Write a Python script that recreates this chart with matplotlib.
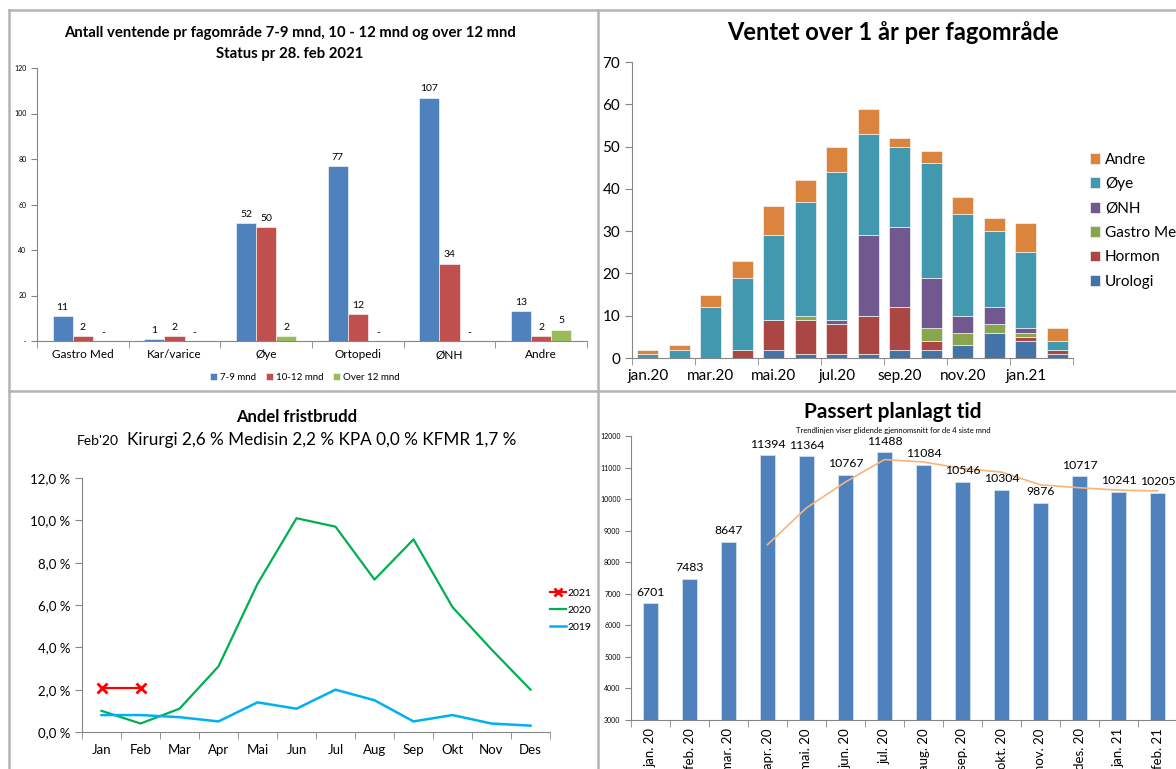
import numpy as np
import pandas as pd
import matplotlib.pyplot as plt
from matplotlib.lines import Line2D

plt.rcParams['font.family'] = ['Lato', 'DejaVu Sans']

W, H = 1176, 769

# Antall ventende pr fagområde (status 28. feb 2021)
fag_navn = ['Gastro Med', 'Kar/varice', 'Øye', 'Ortopedi', 'ØNH', 'Andre']
vent_7_9 = [11, 1, 52, 77, 107, 13]
vent_10_12 = [2, 2, 50, 12, 34, 2]
vent_over_12 = [0, 0, 2, 0, 0, 5]

# Ventet over 1 år, per måned og fagområde
mnd_kort = ['jan.20', 'feb.20', 'mar.20', 'apr.20', 'mai.20', 'jun.20', 'jul.20',
            'aug.20', 'sep.20', 'okt.20', 'nov.20', 'des.20', 'jan.21', 'feb.21']
urologi = [0, 0, 0, 0, 2, 1, 1, 1, 2, 2, 3, 6, 4, 1]
hormon = [0, 0, 0, 2, 7, 8, 7, 9, 10, 2, 0, 0, 1, 1]
gastro_med = [0, 0, 0, 0, 0, 1, 0, 0, 0, 3, 3, 2, 1, 0]
onh = [0, 0, 0, 0, 0, 0, 1, 19, 19, 12, 4, 4, 1, 0]
oye = [1, 2, 12, 17, 20, 27, 35, 24, 19, 27, 24, 18, 18, 2]
andre = [1, 1, 3, 4, 7, 5, 6, 6, 2, 3, 4, 3, 7, 3]

# Andel fristbrudd (%)
maaneder = ['Jan', 'Feb', 'Mar', 'Apr', 'Mai', 'Jun', 'Jul', 'Aug', 'Sep',
            'Okt', 'Nov', 'Des']
brudd_2021 = [2.1, 2.1]
brudd_2020 = [1.0, 0.4, 1.1, 3.1, 7.0, 10.1, 9.7, 7.2, 9.1, 5.9, 3.9, 2.0]
brudd_2019 = [0.8, 0.8, 0.7, 0.5, 1.4, 1.1, 2.0, 1.5, 0.5, 0.8, 0.4, 0.3]

# Passert planlagt tid
mnd_lang = ['jan. 20', 'feb. 20', 'mar. 20', 'apr. 20', 'mai. 20', 'jun. 20',
            'jul. 20', 'aug. 20', 'sep. 20', 'okt. 20', 'nov. 20', 'des. 20',
            'jan. 21', 'feb. 21']
passert = [6701, 7483, 8647, 11394, 11364, 10767, 11488, 11084, 10546, 10304,
           9876, 10717, 10241, 10205]

AXIS_GRAY = '#868686'

fig = plt.figure(figsize=(W / 100, H / 100), dpi=100)


def px_axes(x0, y0, x1, y1):
    """Axes from pixel box (top-left origin)."""
    return fig.add_axes([x0 / W, 1 - y1 / H, (x1 - x0) / W, (y1 - y0) / H])


def px_text(x, y, s, **kw):
    return fig.text(x / W, 1 - y / H, s, **kw)


def style_axes(ax):
    for side in ('top', 'right'):
        ax.spines[side].set_visible(False)
    for side in ('left', 'bottom'):
        ax.spines[side].set_color(AXIS_GRAY)
    ax.tick_params(colors=AXIS_GRAY, labelcolor='black')


def category_ticks(ax, n, labels, step=1, **kw):
    # labels under the categories, tick marks between them
    ax.set_xlim(-0.5, n - 0.5)
    ax.set_xticks(np.arange(0, n, step))
    ax.set_xticklabels(labels[::step], **kw)
    ax.tick_params(axis='x', which='major', length=0)
    ax.set_xticks(np.arange(-0.5, n, step), minor=True)
    ax.tick_params(axis='x', which='minor', length=5, direction='out',
                   color=AXIS_GRAY)


# panel frames
frame = dict(color='#B4B4B4', lw=1.8, transform=fig.transFigure)
fig.add_artist(Line2D([9 / W, 9 / W], [1 - 10 / H, 0], **frame))
fig.add_artist(Line2D([9 / W, 1], [1 - 10 / H, 1 - 10 / H], **frame))
fig.add_artist(Line2D([598 / W, 598 / W], [1 - 10 / H, 0], **frame))
fig.add_artist(Line2D([9 / W, 1], [1 - 391 / H, 1 - 391 / H], **frame))

# ---- top left: grouped bars ----
ax1 = px_axes(37, 68, 587, 341)
style_axes(ax1)
x = np.arange(len(fag_navn))
bw = 0.22
groups = [(vent_7_9, '#4F81BD', '7-9 mnd'),
          (vent_10_12, '#C0504D', '10-12 mnd'),
          (vent_over_12, '#9BBB59', 'Over 12 mnd')]
for i, (vals, col, lab) in enumerate(groups):
    bars = ax1.bar(x + (i - 1) * bw, vals, bw, color=col, label=lab,
                   edgecolor='white', linewidth=0.4)
    ax1.bar_label(bars, labels=[str(v) if v else '-' for v in vals],
                  padding=3, fontsize=7.5)
ax1.set_ylim(0, 120)
ax1.set_yticks(range(0, 121, 20))
ax1.set_yticklabels(['-'] + [str(v) for v in range(20, 121, 20)], fontsize=5)
ax1.tick_params(axis='y', length=4)
category_ticks(ax1, len(fag_navn), fag_navn, fontsize=8.5)
ax1.tick_params(axis='x', which='major', pad=6)
ax1.legend(loc='center', bbox_to_anchor=((205 + 405) / 2 / W, 1 - 377 / H),
           bbox_transform=fig.transFigure, ncol=3, frameon=False, fontsize=7,
           handlelength=0.7, handleheight=0.7, handletextpad=0.3,
           columnspacing=1.0)
px_text(290, 33, 'Antall ventende pr fagområde 7-9 mnd, 10 - 12 mnd og over 12 mnd',
        ha='center', va='center', fontsize=10.7, fontweight='bold')
px_text(290, 54, 'Status pr 28. feb 2021', ha='center', va='center',
        fontsize=10.7, fontweight='bold')

# ---- top right: stacked bars ----
ax2 = px_axes(632, 62, 1073, 358)
style_axes(ax2)
xm = np.arange(len(mnd_kort))
stack = [(urologi, '#4572A7', 'Urologi'),
         (hormon, '#AA4643', 'Hormon'),
         (gastro_med, '#89A54E', 'Gastro Med'),
         (onh, '#71588F', 'ØNH'),
         (oye, '#4198AF', 'Øye'),
         (andre, '#DB843D', 'Andre')]
bottom = np.zeros(len(mnd_kort))
handles = []
for vals, col, lab in stack:
    b = ax2.bar(xm, vals, 0.66, bottom=bottom, color=col, label=lab,
                edgecolor='#F2F2F2', linewidth=0.5)
    handles.append(b)
    bottom += np.array(vals)
ax2.set_ylim(0, 70)
ax2.set_yticks(range(0, 71, 10))
ax2.tick_params(axis='y', labelsize=11, length=5)
category_ticks(ax2, len(mnd_kort), mnd_kort, step=2, fontsize=11)
ax2.tick_params(axis='x', which='major', pad=8)
ax2.legend(handles[::-1], [s[2] for s in stack[::-1]], loc='upper left',
           bbox_to_anchor=(1076 / W, 1 - 139 / H),
           bbox_transform=fig.transFigure, frameon=False, fontsize=11,
           handlelength=0.7, handleheight=0.7, handletextpad=0.3,
           labelspacing=0.68)
px_text(893, 33, 'Ventet over 1 år per fagområde', ha='center', va='center',
        fontsize=17, fontweight='bold')

# ---- bottom left: lines ----
ax3 = px_axes(82, 478, 550, 732)
style_axes(ax3)
xl = np.arange(len(maaneder))
l21, = ax3.plot(xl[:len(brudd_2021)], brudd_2021, color='#FF0000', lw=1.6,
                marker='x', ms=7, mew=2)
l20, = ax3.plot(xl, brudd_2020, color='#00B050', lw=1.6)
l19, = ax3.plot(xl, brudd_2019, color='#00B0F0', lw=1.8)
ax3.set_ylim(0, 12)
ax3.set_yticks(np.arange(0, 12.1, 2))
ax3.set_yticklabels([f'{v:.1f} %'.replace('.', ',') for v in np.arange(0, 12.1, 2)],
                    fontsize=9.5)
ax3.tick_params(axis='y', length=5)
category_ticks(ax3, len(maaneder), maaneder, fontsize=9.5)
ax3.tick_params(axis='x', which='major', pad=9)
ax3.legend([l21, l20, l19], ['2021', '2020', '2019'], loc='center left',
           bbox_to_anchor=(541 / W, 1 - 610 / H),
           bbox_transform=fig.transFigure, frameon=False, fontsize=7.5,
           handlelength=1.5, handletextpad=0.1, labelspacing=0.75,
           markerscale=0.8)
px_text(297, 417, 'Andel fristbrudd', ha='center', va='center',
        fontsize=12, fontweight='bold')
px_text(77, 441, "Feb'20", ha='left', va='center', fontsize=10)
px_text(127, 440, 'Kirurgi 2,6 % Medisin 2,2 % KPA 0,0 % KFMR 1,7 %',
        ha='left', va='center', fontsize=12.3)

# ---- bottom right: bars with moving average ----
ax4 = px_axes(631, 436, 1177, 720)
style_axes(ax4)
xp = np.arange(len(passert))
bars = ax4.bar(xp, passert, 0.39, color='#4F81BD', edgecolor='#DCE6F2',
               linewidth=0.5)
ax4.bar_label(bars, padding=4, fontsize=8.8)
trend = pd.Series(passert).rolling(4).mean()
ax4.plot(xp, trend, color='#F8B47C', lw=1.2)
ax4.set_ylim(3000, 12000)
ax4.set_yticks(range(3000, 12001, 1000))
ax4.tick_params(axis='y', labelsize=5, length=4)
category_ticks(ax4, len(passert), mnd_lang, fontsize=9.5, rotation=90)
ax4.tick_params(axis='x', which='major', pad=6)
px_text(893, 412, 'Passert planlagt tid', ha='center', va='center',
        fontsize=15, fontweight='bold')
px_text(893, 431, 'Trendlinjen viser glidende gjennomsnitt for de 4 siste mnd',
        ha='center', va='center', fontsize=5.5)

fig.savefig('out.png', dpi=100)
